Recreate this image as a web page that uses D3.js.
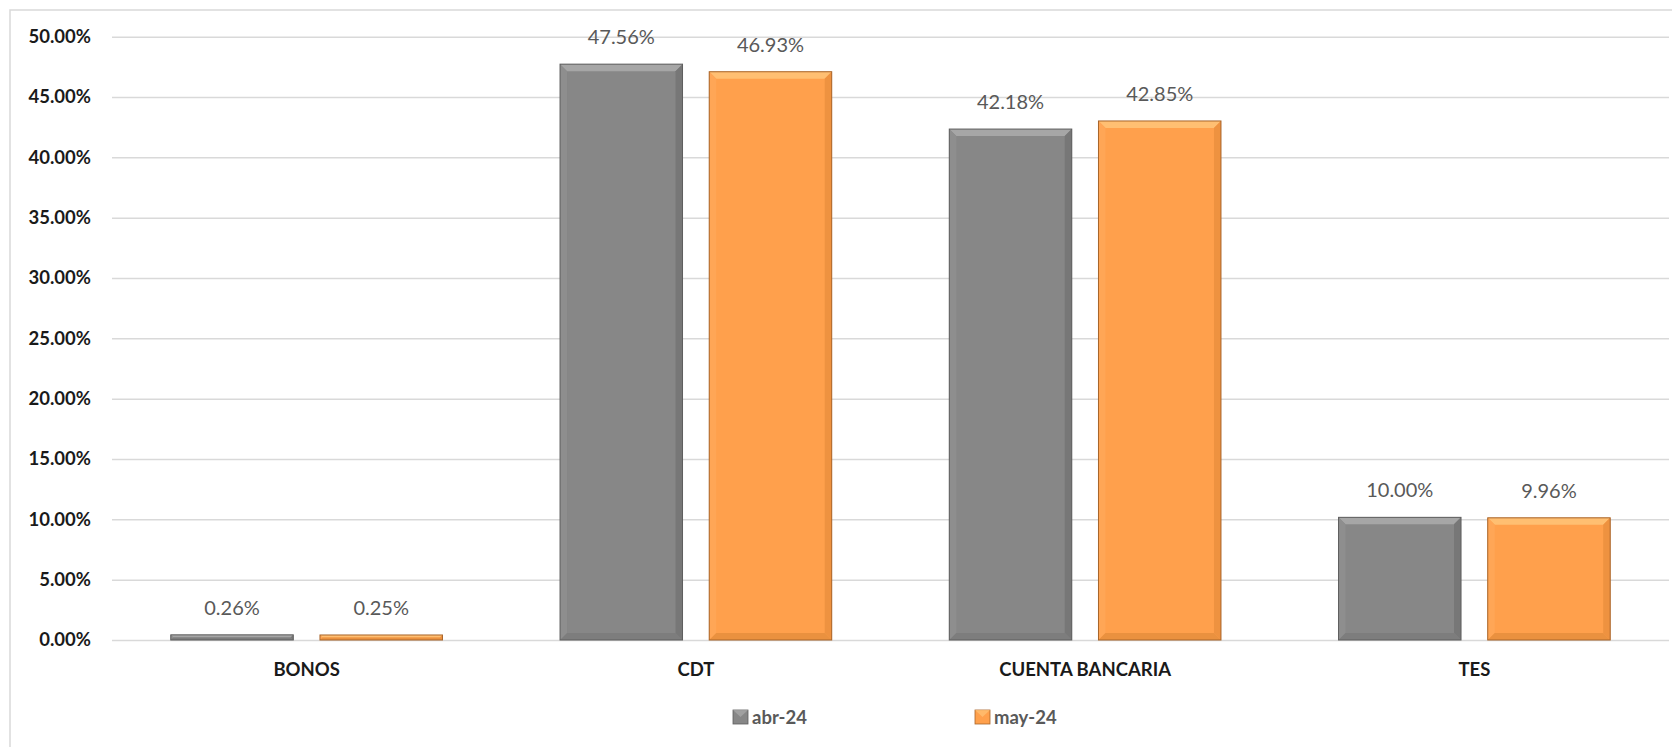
<!DOCTYPE html>
<html>
<head>
<meta charset="utf-8">
<script src="https://cdn.jsdelivr.net/npm/d3@7"></script>
<style>
  html, body { margin: 0; padding: 0; background: #fff; }
  svg { display: block; font-family: Lato, "Open Sans", sans-serif; }
</style>
</head>
<body>
<svg id="chart" width="1672" height="747"></svg>
<script>
const categories = ["BONOS", "CDT", "CUENTA BANCARIA", "TES"];
const seriesNames = ["abr-24", "may-24"];
const abr24 = [0.0026, 0.4756, 0.4218, 0.1000];
const may24 = [0.0025, 0.4693, 0.4285, 0.0996];
const yTicks = [0, 0.05, 0.10, 0.15, 0.20, 0.25, 0.30, 0.35, 0.40, 0.45, 0.50];

const seriesValues = [abr24, may24];
const palette = {
  "abr-24": { main: "#878787", top: "#a6a6a6", left: "#8e8e8e", right: "#777777", bottom: "#7d7d7d", stroke: "#5e5e5e" },
  "may-24": { main: "#ffa04c", top: "#ffbf72", left: "#ffa656", right: "#ee9240", bottom: "#ea913f", stroke: "#a8642a" }
};

const svg = d3.select("#chart");
const W = 1672, H = 747;

// chart border (cut off at right and bottom like the reference)
svg.append("rect").attr("x", 10).attr("y", 10).attr("width", W + 20).attr("height", H + 20)
  .attr("fill", "none").attr("stroke", "#d9d9d9").attr("stroke-width", 1.5);

const x0 = 112, x1 = 1669;
const y = d3.scaleLinear().domain([0, 0.5]).range([640, 36.7]);
const x = d3.scaleBand().domain(categories).range([x0, x1]).paddingInner(0).paddingOuter(0);
const xs = d3.scaleBand().domain(seriesNames).range([0, x.bandwidth()]).paddingInner(0.179).paddingOuter(0.394);

// y axis with gridlines
const yAxis = svg.append("g").attr("transform", `translate(${x0},0)`)
  .call(d3.axisLeft(y).tickValues(yTicks).tickFormat(d3.format(".2%")).tickSize(-(x1 - x0)).tickPadding(21));
yAxis.select(".domain").remove();
yAxis.selectAll(".tick line").attr("stroke", "#d9d9d9").attr("stroke-width", 1.5);
yAxis.selectAll(".tick text").attr("fill", "#1a1a1a").attr("font-size", 18.5).attr("font-weight", "bold")
  .attr("font-family", "Lato, 'Open Sans', sans-serif");

// x axis labels
const xAxis = svg.append("g").attr("transform", `translate(0,640)`)
  .call(d3.axisBottom(x).tickSize(0).tickPadding(23));
xAxis.select(".domain").remove();
xAxis.selectAll(".tick text").attr("fill", "#1a1a1a").attr("font-size", 18.5).attr("font-weight", "bold")
  .attr("font-family", "Lato, 'Open Sans', sans-serif");

// bars with bevel
function drawBar(g, bx, by, bw, bh, c) {
  const b = Math.min(7, bh / 2, bw / 2);
  const L = bx, R = bx + bw, T = by, B = by + bh;
  g.append("rect").attr("x", L).attr("y", T).attr("width", bw).attr("height", bh).attr("fill", c.main);
  const poly = (pts, fill) => g.append("polygon").attr("points", pts.map(p => p.join(",")).join(" ")).attr("fill", fill);
  poly([[L, T], [R, T], [R - b, T + b], [L + b, T + b]], c.top);
  poly([[L, T], [L + b, T + b], [L + b, B - b], [L, B]], c.left);
  poly([[R, T], [R, B], [R - b, B - b], [R - b, T + b]], c.right);
  poly([[L, B], [L + b, B - b], [R - b, B - b], [R, B]], c.bottom);
  g.append("rect").attr("x", L).attr("y", T).attr("width", bw).attr("height", bh)
    .attr("fill", "none").attr("stroke", c.stroke).attr("stroke-width", 1);
}

const barsG = svg.append("g");
seriesNames.forEach((s, si) => {
  categories.forEach((cat, ci) => {
    const v = seriesValues[si][ci];
    const bx = x(cat) + xs(s);
    const bw = xs.bandwidth();
    const by = y(v) - 2;
    const bh = y(0) - by;
    drawBar(barsG, bx, by, bw, bh, palette[s]);
    barsG.append("text").attr("x", bx + bw / 2).attr("y", by - 27).attr("dy", "0.35em")
      .attr("text-anchor", "middle").attr("fill", "#595959").attr("font-size", 20)
      .text(d3.format(".2%")(v));
  });
});

// legend
const legend = svg.append("g");
const legendX = [733, 975];
seriesNames.forEach((s, i) => {
  const g = legend.append("g").attr("transform", `translate(${legendX[i]},710)`);
  const c = palette[s];
  g.append("rect").attr("x", 0).attr("y", 0).attr("width", 15).attr("height", 14).attr("fill", c.main).attr("stroke", c.stroke).attr("stroke-width", 0.8);
  g.append("polygon").attr("points", "0,0 15,0 7.5,7").attr("fill", c.top).attr("opacity", 0.8);
  g.append("text").attr("x", 19).attr("y", 7).attr("dy", "0.36em").attr("fill", "#595959")
    .attr("font-size", 18.5).attr("font-weight", "bold").text(s);
});
</script>
</body>
</html>
